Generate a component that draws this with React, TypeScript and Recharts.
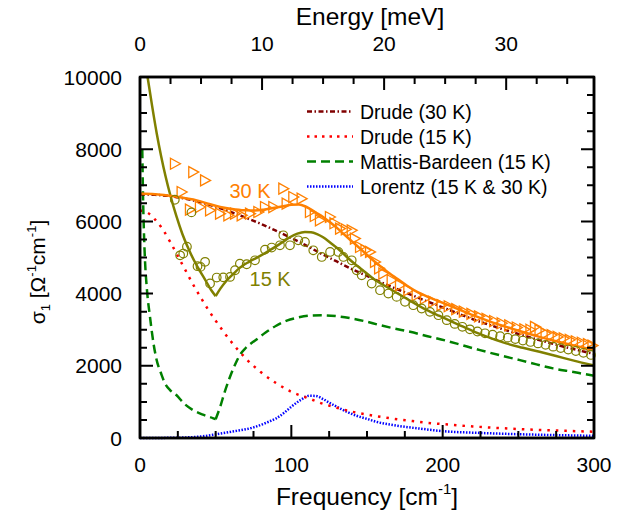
import React from 'react';
import { ComposedChart, Line, Scatter, XAxis, YAxis, ReferenceDot } from 'recharts';

const FONT = "'Liberation Sans', Arial, Helvetica, sans-serif";

// ---------- axis ticks ----------
const freqTicks = [0, 25, 50, 75, 100, 125, 150, 175, 200, 225, 250, 275, 300];
const freqLabels = [0, 100, 200, 300];
const energyTicks = [0, 2.5, 5, 7.5, 10, 12.5, 15, 17.5, 20, 22.5, 25, 27.5, 30, 32.5, 35];
const energyLabels = [0, 10, 20, 30];
const sigmaTicks = [0, 500, 1000, 1500, 2000, 2500, 3000, 3500, 4000, 4500, 5000, 5500, 6000, 6500, 7000, 7500, 8000, 8500, 9000, 9500, 10000];
const sigmaLabels = [0, 2000, 4000, 6000, 8000, 10000];
const MEV_PER_CM = 0.123984;
const FREQ_MAX = 300;
const SIGMA_MAX = 10000;
// energy ticks expressed on the frequency scale of the top axis
const energyTickPositions = energyTicks.map((e) => e / MEV_PER_CM);

// ---------- layout ----------
const W = 625;
const H = 512;
const LEFT_W = 140;
const RIGHT_W = 31;
const TOP_H = 77;
const BOTTOM_H = 74;
const PL = LEFT_W;
const PR = W - RIGHT_W;
const PT = TOP_H;
const PB = H - BOTTOM_H;

// ---------- data (frequency cm^-1, sigma_1) ----------
const data30K: [number, number][] = [
  [23.1, 7598], [27.5, 6813], [33, 6326], [35.2, 7366], [39.6, 6398], [43, 7136], [46.3, 6306],
  [52.9, 6215], [58.4, 6168], [62.8, 6215], [67.2, 6168], [72.7, 6215], [78.2, 6260], [82.6, 6398],
  [88.1, 6398], [94.7, 6906], [96.9, 6491], [101.3, 6675], [106.8, 6629], [112.3, 6260], [115.5, 6150],
  [118.9, 6030], [125.5, 6122], [128.5, 5950], [132.2, 5800], [136, 5780], [139.9, 5753], [142, 5523],
  [145.4, 5292], [149, 5200], [152, 5154], [155.3, 4877], [158, 4700], [160.8, 4555], [166.3, 4370],
  [171.8, 4232], [177.3, 4094], [182.8, 3955], [188.3, 3864], [193.8, 3771], [199.3, 3679],
  [204, 3650], [209, 3570], [214, 3500], [219, 3440], [224, 3370], [229, 3300], [234, 3240],
  [239, 3180], [244, 3120], [249, 3060], [254, 3010], [258, 3000], [261, 3079], [264, 2987],
  [268, 2900], [272, 2850], [276, 2800], [280, 2760], [284, 2720], [288, 2680], [292, 2640],
  [296, 2600], [299, 2560],
];

const data15K: [number, number][] = [
  [23, 6600], [26.5, 5060], [28.6, 5109], [31, 5300], [34, 6250], [38, 4760], [40, 4740], [43, 4880],
  [46.3, 4280], [50.7, 4445], [55, 4450], [59.5, 4462], [62.8, 4647], [66, 4830], [70.5, 4813],
  [76, 4923], [82.6, 5219], [87, 5275], [92.5, 5338], [94.7, 5615], [99.1, 5338], [104.6, 5477],
  [109, 5430], [114.5, 5200], [120.1, 5015], [125.6, 5154], [131.1, 5154], [134.4, 5015],
  [139.9, 4923], [143.2, 4647], [146.5, 4509], [153.1, 4278], [158.6, 4094], [164.1, 4002],
  [169.6, 3909], [175.1, 3771], [180.6, 3679], [186.1, 3587], [191.6, 3494], [197.2, 3402],
  [202.7, 3264], [208, 3160], [213, 3080], [218, 3010], [223, 2950], [228, 2900], [233, 2860],
  [238, 2820], [243, 2780], [248, 2740], [253, 2700], [258, 2660], [263, 2620], [268, 2580],
  [273, 2530], [278, 2490], [283, 2450], [288, 2410], [293, 2360], [298, 2300],
];

const fit30K: [number, number][] = [
  [0, 6770], [10, 6750], [22, 6694], [30, 6640], [37.5, 6583], [45, 6490], [53, 6398], [63, 6330],
  [70.5, 6306], [76, 6305], [81.5, 6325], [88, 6370], [94.7, 6420], [100, 6460], [105, 6465],
  [109, 6420], [112, 6353], [116, 6250], [121, 6121], [126, 5960], [132, 5753], [137, 5560],
  [143, 5338], [148, 5150], [154, 4923], [160, 4720], [165, 4555], [170, 4410], [176, 4232],
  [181, 4100], [187, 3970], [192, 3880], [198, 3780], [209, 3590], [220, 3402], [231, 3230],
  [242, 3079], [253, 2935], [264, 2802], [275, 2680], [286, 2572], [300, 2445],
];

const fit15KLow: [number, number][] = [
  [5, 10000], [8, 9200], [11, 8450], [14, 7800], [17, 7230], [20, 6730], [24, 6150], [28, 5650],
  [33, 5150], [38, 4740], [43, 4390], [47, 4100], [50, 3930],
];
const fit15KHigh: [number, number][] = [
  [50, 3930], [53, 4130], [57, 4350], [62, 4560], [66, 4720], [72, 4880], [77, 4990], [83, 5130],
  [88, 5260], [94, 5420], [99, 5560], [104, 5660], [109, 5705], [113, 5700], [117, 5650],
  [121, 5560], [126, 5400], [132, 5200], [137, 5000], [143, 4785], [148, 4620], [154, 4420],
  [160, 4260], [165, 4140], [170, 4010], [176, 3864], [187, 3600], [198, 3380], [210, 3150],
  [220, 2960], [231, 2780], [242, 2620], [253, 2500], [264, 2387], [275, 2270], [286, 2150], [300, 2010],
];

const drude30K: [number, number][] = [
  [0, 6750], [10, 6735], [20, 6700], [30, 6630], [40, 6530], [50, 6410], [60, 6260], [70, 6100],
  [80, 5930], [90, 5740], [100, 5540], [110, 5330], [120, 5100], [130, 4890], [140, 4680],
  [150, 4490], [160, 4300], [170, 4120], [180, 3950], [190, 3780], [200, 3620], [220, 3290],
  [240, 3010], [260, 2760], [280, 2530], [300, 2330],
];

const drude15K: [number, number][] = [
  [0, 6300], [5, 6240], [10, 6050], [15, 5780], [20, 5430], [25, 5040], [30, 4650], [35, 4260],
  [40, 3900], [45, 3560], [50, 3250], [60, 2680], [70, 2200], [80, 1820], [90, 1520], [100, 1280],
  [112, 1090], [120, 960], [130, 840], [140, 730], [150, 650], [160, 580], [170, 520], [180, 470],
  [190, 420], [200, 385], [220, 320], [240, 270], [260, 230], [280, 200], [300, 175],
];

const mbLow: [number, number][] = [
  [1.5, 8000], [2, 6700], [2.6, 5700], [3.3, 4920], [4.5, 4150], [6.6, 3355], [9, 2600], [11, 2160],
  [14, 1780], [16.5, 1512], [20, 1320], [24, 1190], [29, 960], [35, 774], [42, 640], [48.5, 545], [50, 520],
];
const mbHigh: [number, number][] = [
  [50, 520], [53, 866], [56, 1280], [59.5, 1696], [63, 2050], [66, 2300], [70, 2500], [77, 2730],
  [83, 2920], [90, 3110], [97, 3250], [103.5, 3328], [112, 3390], [120, 3400], [130, 3374],
  [140, 3310], [147.6, 3245], [158.6, 3126], [168, 3035], [178.5, 2941], [190, 2820], [202.7, 2691],
  [213, 2570], [224.7, 2434], [238, 2290], [251, 2157], [262, 2040], [273, 1928], [285, 1840],
  [297.4, 1743], [300, 1725],
];

const lorentz: [number, number][] = [
  [0, 0], [20, 5], [30, 15], [40, 40], [50, 100], [60, 170], [75, 295], [85, 450], [90, 545],
  [95, 690], [100, 866], [106, 1050], [112, 1170], [116, 1165], [121, 1078], [125, 980], [130, 866],
  [137, 720], [143, 617], [150, 530], [156, 451], [170, 340], [185, 260], [200, 190], [225, 140],
  [250, 105], [275, 80], [300, 60],
];

const toPts = (a: [number, number][]) => a.map(([x, y]) => ({ x, y }));

// registers the top and right axes
const axisExtent = [
  { x: 0, y: 0 },
  { x: FREQ_MAX, y: SIGMA_MAX },
];

const C_ORANGE = '#ff8000';
const C_OLIVE = '#808000';
const C_DARKRED = '#800000';
const C_RED = '#ff0000';
const C_GREEN = '#008000';
const C_BLUE = '#0000ff';

const legendItems = [
  { label: 'Drude (30 K)', color: C_DARKRED, dash: '5 2.5 1.5 2.5' },
  { label: 'Drude (15 K)', color: C_RED, dash: '2.5 5' },
  { label: 'Mattis-Bardeen (15 K)', color: C_GREEN, dash: '9 5' },
  { label: 'Lorentz (15 K & 30 K)', color: C_BLUE, dash: '1.5 1.5' },
];

// ---------- custom tick labels ----------
const BottomTick = (p: any) => {
  const { x, y, payload } = p;
  const v = payload.value;
  if (!freqLabels.includes(v)) return <g />;
  return (
    <text x={x} y={y + 34} textAnchor="middle" fontSize={21} fontFamily={FONT} fill="#000">{v}</text>
  );
};
const TopTick = (p: any) => {
  const { x, y, payload } = p;
  const e = Math.round(payload.value * MEV_PER_CM * 10) / 10;
  if (!energyLabels.includes(e)) return <g />;
  return (
    <text x={x} y={y - 26} textAnchor="middle" fontSize={21} fontFamily={FONT} fill="#000">{e}</text>
  );
};
const LeftTick = (p: any) => {
  const { x, y, payload } = p;
  const v = payload.value;
  if (!sigmaLabels.includes(v)) return <g />;
  return (
    <text x={x - 18} y={y + 7.5} textAnchor="end" fontSize={21} fontFamily={FONT} fill="#000">{v}</text>
  );
};
const NoTick = () => <g />;

// ---------- box frame, inward tick marks and legend ----------
const sx = (f: number) => PL + (f / FREQ_MAX) * (PR - PL);
const sy = (s: number) => PB - (s / SIGMA_MAX) * (PB - PT);

const Overlay = () => {
  const segs: string[] = [];
  freqTicks.forEach((f) => {
    const len = freqLabels.includes(f) ? 13 : 7;
    segs.push(`M${sx(f)},${PB}V${PB - len}`);
  });
  energyTicks.forEach((e) => {
    const len = energyLabels.includes(e) ? 13 : 7;
    segs.push(`M${sx(e / MEV_PER_CM)},${PT}V${PT + len}`);
  });
  sigmaTicks.forEach((s) => {
    const len = sigmaLabels.includes(s) ? 13 : 7;
    segs.push(`M${PL},${sy(s)}H${PL + len}`);
    segs.push(`M${PR},${sy(s)}H${PR - len}`);
  });
  const LX = 303;
  const LY = 99;
  return (
    <svg width={W} height={H} style={{ position: 'absolute', left: 0, top: 0, pointerEvents: 'none' }}>
      <path d={segs.join('')} stroke="#000" strokeWidth={2} fill="none" />
      <rect x={PL} y={PT} width={PR - PL} height={PB - PT} stroke="#000" strokeWidth={2.5} fill="none" />
      <g transform={`translate(${LX},${LY})`}>
        {legendItems.map((it, i) => (
          <g key={it.label}>
            <line x1={4} x2={50} y1={12.5 + 25 * i} y2={12.5 + 25 * i} stroke={it.color} strokeWidth={2.5} strokeDasharray={it.dash} />
            <text x={57} y={12.5 + 25 * i} dy="0.36em" fontSize={19.5} fontFamily={FONT} fill="#000">{it.label}</text>
          </g>
        ))}
      </g>
    </svg>
  );
};

const triangleShape = (color: string) => (p: any) => {
  const { cx, cy } = p;
  if (cx == null || cy == null) return <g />;
  return (
    <polygon
      points={`${cx - 4.5},${cy - 5.5} ${cx + 5.5},${cy} ${cx - 4.5},${cy + 5.5}`}
      fill="none"
      stroke={color}
      strokeWidth={1.3}
    />
  );
};
const circleShape = (color: string) => (p: any) => {
  const { cx, cy } = p;
  if (cx == null || cy == null) return <g />;
  return <circle cx={cx} cy={cy} r={4.3} fill="none" stroke={color} strokeWidth={1.2} />;
};

const axisLine = { stroke: '#000', strokeWidth: 2.5 };

export default function App() {
  return (
    <div style={{ position: 'absolute', left: 0, top: 0, width: W, height: H, background: '#fff' }}>
      <ComposedChart width={W} height={H} margin={{ top: 0, right: 0, bottom: 0, left: 0 }}>
        <XAxis
          xAxisId="f"
          dataKey="x"
          type="number"
          domain={[0, FREQ_MAX]}
          ticks={freqTicks}
          interval={0}
          height={BOTTOM_H}
          tickSize={0}
          tickMargin={0}
          tickLine={false}
          axisLine={axisLine}
          tick={BottomTick}
          label={{
            content: () => (
              <text x={367} y={505} textAnchor="middle" fontSize={24.5} fontFamily={FONT} fill="#000">
                Frequency [cm<tspan dy={-11} fontSize={15}>-1</tspan><tspan dy={11}>]</tspan>
              </text>
            ),
          }}
        />
        <XAxis
          xAxisId="t"
          dataKey="x"
          orientation="top"
          type="number"
          domain={[0, FREQ_MAX]}
          ticks={energyTickPositions}
          interval={0}
          height={TOP_H}
          tickSize={0}
          tickMargin={0}
          tickLine={false}
          axisLine={axisLine}
          tick={TopTick}
          label={{
            content: () => (
              <text x={370} y={25} textAnchor="middle" fontSize={24.5} fontFamily={FONT} fill="#000">
                Energy [meV]
              </text>
            ),
          }}
        />
        <YAxis
          yAxisId="l"
          dataKey="y"
          type="number"
          domain={[0, SIGMA_MAX]}
          ticks={sigmaTicks}
          interval={0}
          width={LEFT_W}
          tickSize={0}
          tickMargin={0}
          tickLine={false}
          axisLine={axisLine}
          tick={LeftTick}
          label={{
            content: () => (
              <text x={45} y={272} transform="rotate(-90 45 272)" textAnchor="middle" fontSize={21} fontFamily={FONT} fill="#000">
                σ<tspan dy={5} fontSize={13}>1</tspan>
                <tspan dy={-5}> [Ω</tspan>
                <tspan dy={-9} fontSize={13}>-1</tspan>
                <tspan dy={9}>cm</tspan>
                <tspan dy={-9} fontSize={13}>-1</tspan>
                <tspan dy={9}>]</tspan>
              </text>
            ),
          }}
        />
        <YAxis
          yAxisId="r"
          dataKey="y"
          orientation="right"
          type="number"
          domain={[0, SIGMA_MAX]}
          ticks={sigmaTicks}
          interval={0}
          width={RIGHT_W}
          tickSize={0}
          tickMargin={0}
          tickLine={false}
          axisLine={axisLine}
          tick={NoTick}
        />

        <Line xAxisId="t" yAxisId="r" data={axisExtent} dataKey="y" stroke="none" dot={false} activeDot={false} isAnimationActive={false} legendType="none" />

        <Scatter xAxisId="f" yAxisId="l" data={toPts(data30K)} dataKey="y" shape={triangleShape(C_ORANGE)} isAnimationActive={false} />
        <Scatter xAxisId="f" yAxisId="l" data={toPts(data15K)} dataKey="y" shape={circleShape(C_OLIVE)} isAnimationActive={false} />

        <Line xAxisId="f" yAxisId="l" data={toPts(lorentz)} dataKey="y" type="monotone" stroke={C_BLUE} strokeWidth={2.5} strokeDasharray="1.5 1.5" dot={false} activeDot={false} isAnimationActive={false} />
        <Line xAxisId="f" yAxisId="l" data={toPts(drude15K)} dataKey="y" type="monotone" stroke={C_RED} strokeWidth={2.5} strokeDasharray="2.5 6" dot={false} activeDot={false} isAnimationActive={false} />
        <Line xAxisId="f" yAxisId="l" data={toPts(mbLow)} dataKey="y" type="monotone" stroke={C_GREEN} strokeWidth={2.5} strokeDasharray="9 5" dot={false} activeDot={false} isAnimationActive={false} />
        <Line xAxisId="f" yAxisId="l" data={toPts(mbHigh)} dataKey="y" type="monotone" stroke={C_GREEN} strokeWidth={2.5} strokeDasharray="9 5" dot={false} activeDot={false} isAnimationActive={false} />
        <Line xAxisId="f" yAxisId="l" data={toPts(drude30K)} dataKey="y" type="monotone" stroke={C_DARKRED} strokeWidth={2.5} strokeDasharray="5 2.5 1.5 2.5" dot={false} activeDot={false} isAnimationActive={false} />
        <Line xAxisId="f" yAxisId="l" data={toPts(fit15KLow)} dataKey="y" type="monotone" stroke={C_OLIVE} strokeWidth={2.5} dot={false} activeDot={false} isAnimationActive={false} />
        <Line xAxisId="f" yAxisId="l" data={toPts(fit15KHigh)} dataKey="y" type="monotone" stroke={C_OLIVE} strokeWidth={2.5} dot={false} activeDot={false} isAnimationActive={false} />
        <Line xAxisId="f" yAxisId="l" data={toPts(fit30K)} dataKey="y" type="monotone" stroke={C_ORANGE} strokeWidth={2.5} dot={false} activeDot={false} isAnimationActive={false} />

        <ReferenceDot xAxisId="f" yAxisId="l" x={72.7} y={6832} r={0} fill="none" stroke="none"
          label={{ value: '30 K', position: 'center', fill: C_ORANGE, fontSize: 20, fontFamily: FONT }} />
        <ReferenceDot xAxisId="f" yAxisId="l" x={86} y={4398} r={0} fill="none" stroke="none"
          label={{ value: '15 K', position: 'center', fill: C_OLIVE, fontSize: 20, fontFamily: FONT }} />
      </ComposedChart>
      <Overlay />
    </div>
  );
}
